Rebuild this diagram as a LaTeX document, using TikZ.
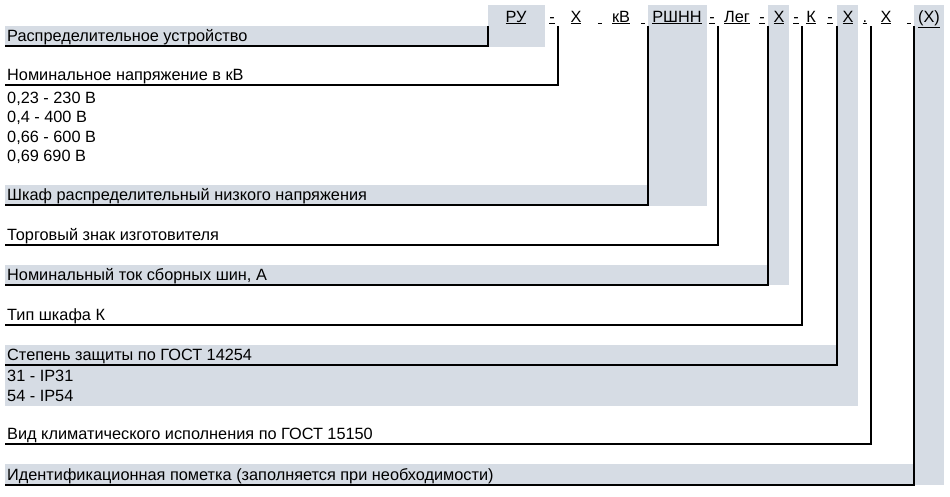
\documentclass[tikz,border=0pt]{standalone}
\usepackage{fontspec}
\setmainfont{Liberation Sans}
\usetikzlibrary{positioning}
\definecolor{bluegray}{RGB}{214, 220, 228}

\begin{document}
\begin{tikzpicture}[x=1pt, y=-1pt,
        font=\fontsize{16.3}{19}\selectfont,
        hdr/.style={anchor=base, inner sep=0pt},
        lbl/.style={anchor=south west, inner xsep=2pt, inner ysep=0pt, text depth=4.5pt},
        itm/.style={anchor=base west, inner xsep=2pt, inner ysep=0pt},
        link/.style={black, line width=1.1pt}]
            \useasboundingbox (0,0) rectangle (950,496);
            \fill[bluegray] (488,  5) rectangle (545, 47);
            \fill[bluegray] (  5, 26) rectangle (488, 46);
            \fill[bluegray] (648,  5) rectangle (707,206);
            \fill[bluegray] (  5,185) rectangle (648,205);
            \fill[bluegray] (768,  5) rectangle (789,285);
            \fill[bluegray] (  5,265) rectangle (768,285);
            \fill[bluegray] (837,  5) rectangle (858,406);
            \fill[bluegray] (  5,345) rectangle (837,406);
            \fill[bluegray] (914,  5) rectangle (944,485);
            \fill[bluegray] (  5,464) rectangle (914,485);
            % code line
            \node[hdr] (hRU)   at (516,22) {\underline{РУ}};
            \node[hdr] (hdA)   at (552,22) {\underline{-}};
            \node[hdr] (hV)    at (576,22) {\underline{Х}};
            \node[hdr] (hsA)   at (600,22) {\underline{\hspace{4.5pt}}};
            \node[hdr] (hkV)   at (621,22) {\underline{кВ}};
            \node[hdr] (hsB)   at (643,22) {\underline{\hspace{4.5pt}}};
            \node[hdr] (hRSHN) at (677,22) {\underline{РШНН}};
            \node[hdr] (hdB)   at (712,22) {\underline{-}};
            \node[hdr] (hLeg)  at (737,22) {\underline{Лег}};
            \node[hdr] (hdC)   at (762,22) {\underline{-}};
            \node[hdr] (hI)    at (779,22) {\underline{Х}};
            \node[hdr] (hdD)   at (796,22) {\underline{-}};
            \node[hdr] (hK)    at (811,22) {\underline{К}};
            \node[hdr] (hdE)   at (830,22) {\underline{-}};
            \node[hdr] (hIP)   at (848,22) {\underline{Х}};
            \node[hdr] (hdot)  at (865,22) {\underline{.}};
            \node[hdr] (hClim) at (886,22) {\underline{Х}};
            \node[hdr] (hsC)   at (909,22) {\underline{\hspace{4.5pt}}};
            \node[hdr] (hId)   at (929,22) {\underline{(Х)}};
            \coordinate (cRU)   at (488,26);
            \coordinate (cV)    at (558,26);
            \coordinate (cRSHN) at (648,26);
            \coordinate (cLeg)  at (718,26);
            \coordinate (cI)    at (768,26);
            \coordinate (cK)    at (802,26);
            \coordinate (cIP)   at (837,26);
            \coordinate (cClim) at (871,26);
            \coordinate (cId)   at (914,26);
            % explanations
            \node[lbl] (lRU)   at (5, 46) {Распределительное устройство};
            \node[lbl] (lV)    at (5, 85) {Номинальное напряжение в кВ};
            \node[itm] (lV1)   at (5,103) {0,23 - 230 В};
            \node[itm] (lV2)   at (5,122) {0,4 - 400 В};
            \node[itm] (lV3)   at (5,142) {0,66 - 600 В};
            \node[itm] (lV4)   at (5,161) {0,69 690 В};
            \node[lbl] (lRSHN) at (5,205) {Шкаф распределительный низкого напряжения};
            \node[lbl] (lLeg)  at (5,245) {Торговый знак изготовителя};
            \node[lbl] (lI)    at (5,285) {Номинальный ток сборных шин, А};
            \node[lbl] (lK)    at (5,325) {Тип шкафа К};
            \node[lbl] (lIP)   at (5,365) {Степень защиты по ГОСТ 14254};
            \node[itm] (lIP1)  at (5,381) {31 - IP31};
            \node[itm] (lIP2)  at (5,401) {54 - IP54};
            \node[lbl] (lClim) at (5,444) {Вид климатического исполнения по ГОСТ 15150};
            \node[lbl] (lId)   at (5,485) {Идентификационная пометка (заполняется при необходимости)};
            \draw[link] (cRU)   |- (lRU.south west);
            \draw[link] (cV)    |- (lV.south west);
            \draw[link] (cRSHN) |- (lRSHN.south west);
            \draw[link] (cLeg)  |- (lLeg.south west);
            \draw[link] (cI)    |- (lI.south west);
            \draw[link] (cK)    |- (lK.south west);
            \draw[link] (cIP)   |- (lIP.south west);
            \draw[link] (cClim) |- (lClim.south west);
            \draw[link] (cId)   |- (lId.south west);
        \end{tikzpicture}
\end{document}
